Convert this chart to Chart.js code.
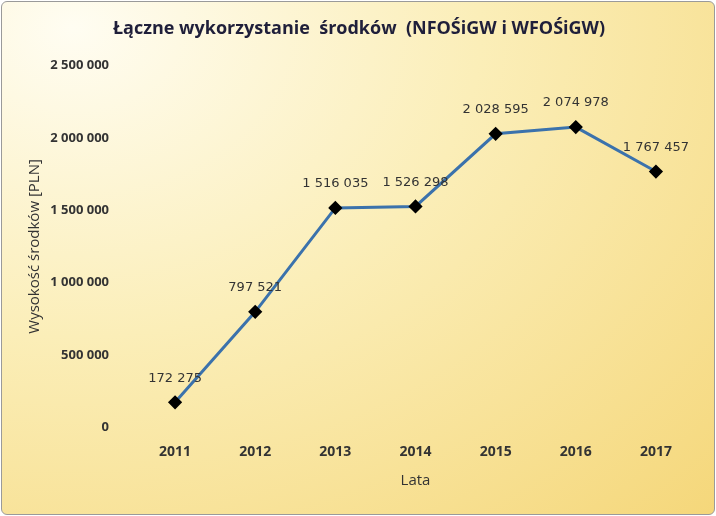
<!DOCTYPE html>
<html><head><meta charset="utf-8">
<script src="https://cdn.jsdelivr.net/npm/chart.js@4"></script>
<style>
body{margin:0;background:#fff;}
#wrap{position:absolute;left:1px;top:1px;width:712px;height:512px;border:1px solid #9a9a9a;border-radius:6px;overflow:hidden;
background:radial-gradient(ellipse at 10% 5%, #fffdf2 0%, #fbeeb8 45%, #f5d77a 100%);}
</style></head><body>
<div id="wrap"><canvas id="c" width="712" height="512"></canvas></div>
<script>
const years = ['2011', '2012', '2013', '2014', '2015', '2016', '2017'];
const funds = [172275, 797521, 1516035, 1526298, 2028595, 2074978, 1767457];

function fmt(v) {
  return String(v).replace(/\B(?=(\d{3})+(?!\d))/g, ' ');
}

const valueLabels = {
  id: 'valueLabels',
  afterDatasetsDraw(chart) {
    const ctx = chart.ctx;
    const meta = chart.getDatasetMeta(0);
    ctx.save();
    ctx.font = '13px "DejaVu Sans"';
    ctx.fillStyle = '#333';
    ctx.textAlign = 'center';
    ctx.textBaseline = 'middle';
    meta.data.forEach((p, i) => {
      ctx.fillText(fmt(funds[i]), p.x, p.y - 24);
    });
    ctx.restore();
  }
};

new Chart(document.getElementById('c'), {
  type: 'line',
  data: {
    labels: years,
    datasets: [{
      data: funds,
      borderColor: '#3b72ac',
      borderWidth: 3,
      pointStyle: 'rectRot',
      pointRadius: 5,
      pointBackgroundColor: '#000',
      pointBorderColor: '#000',
      tension: 0
    }]
  },
  options: {
    responsive: false,
    animation: false,
    layout: { padding: { left: 20, right: 18, top: 10, bottom: 20 } },
    plugins: {
      legend: { display: false },
      tooltip: { enabled: false },
      title: {
        display: true,
        text: 'Łączne wykorzystanie  środków  (NFOŚiGW i WFOŚiGW)',
        color: '#1f1f3a',
        font: { family: 'Open Sans', size: 18, weight: 'bold' },
        padding: { top: 6, bottom: 26 }
      }
    },
    scales: {
      x: {
        offset: true,
        grid: { display: false },
        border: { display: false },
        ticks: { color: '#333', font: { family: 'Open Sans', size: 14, weight: 'bold' }, padding: 8 },
        title: { display: true, text: 'Lata', color: '#333', font: { family: 'Open Sans', size: 15 } }
      },
      y: {
        min: 0, max: 2500000,
        grid: { display: false },
        border: { display: false },
        afterFit(s) { s.width = 113; },
        ticks: { stepSize: 500000, color: '#333', padding: 18,
          font: { family: 'Open Sans', size: 13, weight: 'bold' },
          callback: v => fmt(v) },
        title: { display: true, text: 'Wysokość środków [PLN]', color: '#333', font: { family: 'Open Sans', size: 15 } }
      }
    }
  },
  plugins: [valueLabels]
});
</script>
</body></html>
